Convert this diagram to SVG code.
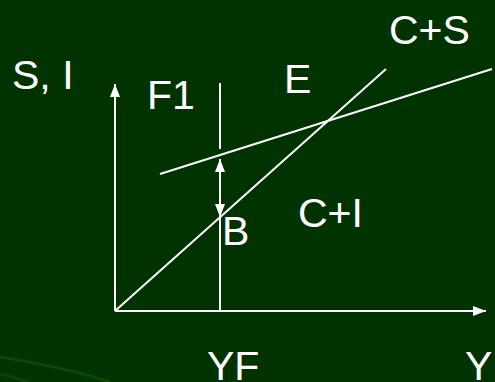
<svg xmlns="http://www.w3.org/2000/svg" width="495" height="382" viewBox="0 0 495 382">
<style>
.ln{stroke:#fff;stroke-width:2;fill:none}
.t{font-family:"Liberation Sans",Arial,sans-serif;font-size:41px;fill:#fff}
</style>
<defs>
<marker id="ah" markerWidth="14" markerHeight="10" refX="13" refY="5" orient="auto" markerUnits="userSpaceOnUse">
<path d="M0,0 L13,5 L0,10 Z" fill="#fff"/>
</marker>
</defs>
<rect width="495" height="382" fill="#003300"/>
<path d="M0,357 Q60,366 110,382" stroke="#0b4d0b" stroke-width="3" fill="none" opacity="0.8"/>
<path d="M0,374 Q15,377 28,382" stroke="#0b4d0b" stroke-width="3" fill="none" opacity="0.7"/>
<g id="connectors">
<line id="y-axis" class="ln" x1="115" y1="311" x2="115" y2="84" marker-end="url(#ah)"/>
<line id="x-axis" class="ln" x1="115" y1="311" x2="486" y2="311" marker-end="url(#ah)"/>
<line id="yf-top" class="ln" x1="220" y1="83" x2="220" y2="149"/>
<line id="yf-bottom" class="ln" x1="220" y1="216" x2="220" y2="311"/>
<line id="gap-up" class="ln" x1="220" y1="188" x2="220" y2="159" marker-end="url(#ah)"/>
<line id="gap-down" class="ln" x1="220" y1="188" x2="220" y2="217" marker-end="url(#ah)"/>
<line id="c-plus-i" class="ln" x1="115" y1="311" x2="386" y2="69"/>
<line id="c-plus-s" class="ln" x1="160" y1="174" x2="492" y2="69"/>
</g>
<g id="label-si"><text class="t" x="12" y="89">S, I</text></g>
<g id="label-f1"><text class="t" x="147" y="109">F1</text></g>
<g id="label-e"><text class="t" x="284" y="93">E</text></g>
<g id="label-cs"><text class="t" x="389" y="44">C+S</text></g>
<g id="label-b"><text class="t" x="222" y="245">B</text></g>
<g id="label-ci"><text class="t" x="298" y="227">C+I</text></g>
<g id="label-yf"><text class="t" x="207" y="380">YF</text></g>
<g id="label-y"><text class="t" x="465" y="380">Y</text></g>
</svg>
